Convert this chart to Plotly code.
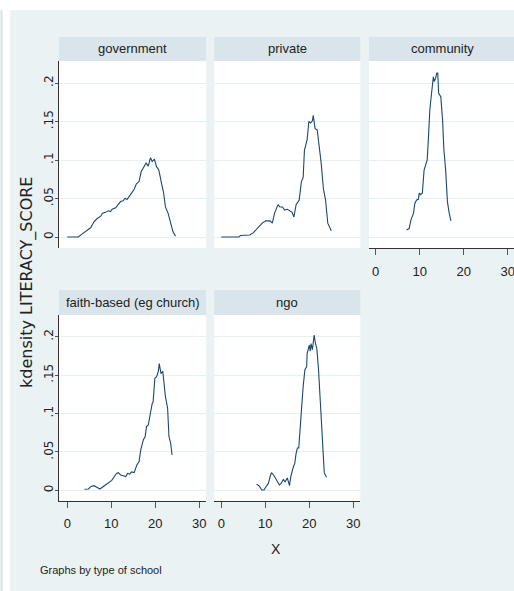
import plotly.graph_objects as go

W, H = 514, 591

# ---------------- data ----------------
panels = ["government", "private", "community", "faith-based (eg church)", "ngo"]

gov_x = [0, 2.5, 3.4, 4.5, 5.3, 6.1, 6.8, 7.6, 8.0, 8.7, 9.3, 9.8, 10.2, 11.0, 11.6, 12.1,
         12.7, 13.1, 13.6, 14.2, 14.6, 15.2, 15.7, 16.3, 16.8, 17.4, 17.9, 18.4, 18.9, 19.3,
         19.8, 20.3, 20.8, 21.4, 21.9, 22.3, 22.9, 23.5, 24.0, 24.6]
gov_y = [0, 0, 0.004, 0.008, 0.012, 0.020, 0.024, 0.027, 0.031, 0.032, 0.034, 0.033, 0.036,
         0.038, 0.043, 0.046, 0.047, 0.050, 0.049, 0.053, 0.057, 0.062, 0.069, 0.072, 0.085,
         0.091, 0.096, 0.092, 0.103, 0.098, 0.101, 0.091, 0.087, 0.070, 0.057, 0.039, 0.031,
         0.018, 0.007, 0.001]

priv_x = [0, 4.0, 4.4, 6.5, 7.3, 8.2, 9.3, 10.1, 11.1, 11.6, 12.1, 12.9, 13.3, 13.9, 14.4,
          15.0, 15.6, 16.1, 16.5, 17.0, 17.7, 18.2, 18.6, 18.9, 19.5, 19.9, 20.3, 20.7, 20.9,
          21.3, 21.8, 22.2, 22.7, 23.2, 23.7, 24.2, 25.0]
priv_y = [0, 0, 0.002, 0.0026, 0.0056, 0.011, 0.018, 0.021, 0.021, 0.018, 0.031, 0.042, 0.039,
          0.039, 0.035, 0.036, 0.034, 0.032, 0.026, 0.042, 0.048, 0.072, 0.077, 0.113, 0.126,
          0.150, 0.148, 0.151, 0.158, 0.141, 0.139, 0.122, 0.096, 0.063, 0.048, 0.018, 0.008]

comm_x = [7.0, 7.6, 8.0, 8.6, 8.9, 9.3, 9.7, 9.9, 10.2, 10.6, 11.0, 11.4, 11.7, 12.0, 12.3,
          12.7, 13.1, 13.3, 13.6, 13.9, 14.1, 14.3, 14.8, 15.2, 15.5, 15.9, 16.3, 16.7, 17.1]
comm_y = [0.009, 0.011, 0.022, 0.031, 0.044, 0.048, 0.049, 0.057, 0.055, 0.057, 0.087, 0.096,
          0.100, 0.130, 0.165, 0.187, 0.208, 0.202, 0.206, 0.213, 0.213, 0.187, 0.182, 0.152,
          0.113, 0.087, 0.046, 0.031, 0.021]

faith_x = [3.9, 4.8, 5.4, 6.1, 6.7, 7.4, 8.2, 8.9, 9.5, 10.1, 10.7, 11.2, 11.6, 12.1, 12.7,
           13.3, 13.7, 14.2, 14.6, 15.2, 15.8, 16.3, 16.7, 17.3, 17.7, 18.0, 18.4, 18.8, 19.3,
           19.5, 19.9, 20.3, 20.7, 20.9, 21.3, 21.7, 22.0, 22.3, 22.8, 23.1, 23.5, 23.8]
faith_y = [0.0013, 0.0017, 0.005, 0.006, 0.004, 0.0017, 0.005, 0.008, 0.010, 0.013, 0.018,
           0.022, 0.023, 0.020, 0.019, 0.018, 0.022, 0.021, 0.024, 0.023, 0.033, 0.037, 0.053,
           0.066, 0.070, 0.083, 0.085, 0.098, 0.113, 0.115, 0.146, 0.148, 0.155, 0.165, 0.152,
           0.155, 0.139, 0.122, 0.107, 0.070, 0.061, 0.046]

ngo_x = [8.0, 8.6, 9.2, 9.7, 10.2, 10.7, 11.1, 11.4, 12.0, 12.6, 13.2, 13.6, 14.1, 14.5, 15.0,
         15.5, 15.8, 16.4, 16.7, 17.0, 17.3, 17.6, 17.9, 18.3, 18.6, 19.0, 19.4, 19.5, 19.8,
         20.0, 20.2, 20.4, 20.7, 20.9, 21.1, 21.4, 21.7, 22.1, 22.4, 22.8, 23.2, 23.4, 23.9]
ngo_y = [0.008, 0.0056, 0.0004, 0.0004, 0.005, 0.009, 0.018, 0.023, 0.019, 0.013, 0.007,
         0.009, 0.014, 0.011, 0.016, 0.006, 0.018, 0.031, 0.035, 0.048, 0.055, 0.055, 0.083,
         0.105, 0.135, 0.157, 0.161, 0.178, 0.185, 0.189, 0.181, 0.191, 0.183, 0.196, 0.202,
         0.191, 0.185, 0.157, 0.122, 0.092, 0.048, 0.023, 0.017]

y_tickvals = [0, 0.05, 0.1, 0.15, 0.2]
y_ticktext = ["0", ".05", ".1", ".15", ".2"]
x_tickvals = [0, 10, 20, 30]
x_ticktext = ["0", "10", "20", "30"]

y_title = "kdensity LITERACY_SCORE"
x_title = "X"
note = "Graphs by type of school"

# ---------------- styling ----------------
NARROW = "Liberation Sans, Arial, sans-serif"
WIDE = "DejaVu Sans, Verdana, sans-serif"
OUTER = "#EAF2F3"
STRIP = "#D9E5EA"
GRID = "#E6EFF1"
LINE = "#1A476F"
TXT = "#222222"
AXIS = "#333333"

def fx(p):
    return p / W

def fy(p):
    return 1 - p / H

cols = [(59, 206, 67.3), (214.3, 360.3, 221.3), (369, 514, 375.7)]
rows = [(61, 248, 237), (315, 500.7, 490.3)]
PXU_X = 4.4
PXU_Y = [770, 768]

# (col, row, show_y_labels, show_x_axis)
layout_spec = [
    (0, 0, True, False),
    (1, 0, False, False),
    (2, 0, False, True),
    (0, 1, True, True),
    (1, 1, False, True),
]
series = [(gov_x, gov_y), (priv_x, priv_y), (comm_x, comm_y), (faith_x, faith_y), (ngo_x, ngo_y)]

fig = go.Figure()
layout = dict(
    width=W, height=H,
    margin=dict(l=0, r=0, t=0, b=0),
    paper_bgcolor=OUTER,
    plot_bgcolor="white",
    showlegend=False,
    shapes=[],
    annotations=[],
)

for i, ((c, r, showy, showx), (sx, sy)) in enumerate(zip(layout_spec, series)):
    n = i + 1
    xl, xr, x0 = cols[c]
    yt, yb, y0 = rows[r]
    pu = PXU_Y[r]
    xrange = [-(x0 - xl) / PXU_X, (xr - x0) / PXU_X]
    yrange = [-(yb - y0) / pu, (y0 - yt) / pu]
    xname = "xaxis" if n == 1 else f"xaxis{n}"
    yname = "yaxis" if n == 1 else f"yaxis{n}"
    xref = "x" if n == 1 else f"x{n}"
    yref = "y" if n == 1 else f"y{n}"

    fig.add_trace(go.Scatter(x=sx, y=sy, mode="lines", xaxis=xref, yaxis=yref,
                             line=dict(color=LINE, width=1.1), hoverinfo="skip"))

    layout[xname] = dict(
        domain=[fx(xl), fx(xr)], range=xrange, anchor=yref,
        showgrid=False, zeroline=False,
        showline=showx, linecolor=AXIS, linewidth=1,
        ticks="outside" if showx else "", ticklen=6, tickwidth=1, tickcolor="#555555",
        showticklabels=showx, tickvals=x_tickvals, ticktext=x_ticktext,
        ticklabelstandoff=5, ticklabeloverflow="allow",
        tickfont=dict(family=NARROW, size=13, color=TXT),
        fixedrange=True,
    )
    layout[yname] = dict(
        domain=[fy(yb), fy(yt)], range=yrange, anchor=xref,
        showgrid=True, gridcolor=GRID, gridwidth=1.3, zeroline=False,
        showline=showy, linecolor=AXIS, linewidth=1,
        ticks="outside" if showy else "", ticklen=3, tickwidth=1, tickcolor="#555555",
        showticklabels=showy, tickvals=y_tickvals, ticktext=y_ticktext, tickangle=-90,
        ticklabelstandoff=-3,
        tickfont=dict(family=WIDE, size=12, color=TXT),
        fixedrange=True,
    )

    # strip header
    hy0, hy1 = (37, 61) if r == 0 else (290, 315)
    hx1 = xr if c < 2 else 516
    layout["shapes"].append(dict(type="rect", xref="paper", yref="paper",
                                 x0=fx(xl), x1=fx(min(hx1, W)), y0=fy(hy1), y1=fy(hy0),
                                 fillcolor=STRIP, line=dict(width=0), layer="below"))
    layout["annotations"].append(dict(text=panels[i], xref="paper", yref="paper",
                                      x=fx((xl + hx1) / 2), y=fy((hy0 + hy1) / 2),
                                      xanchor="center", yanchor="middle", showarrow=False,
                                      font=dict(family=NARROW, size=13, color=TXT)))

# white margins at left and top
layout["shapes"].append(dict(type="rect", xref="paper", yref="paper", x0=0, x1=fx(10), y0=0, y1=1,
                             fillcolor="white", line=dict(width=0), layer="below"))
layout["shapes"].append(dict(type="rect", xref="paper", yref="paper", x0=0, x1=1, y0=fy(10), y1=1,
                             fillcolor="white", line=dict(width=0), layer="below"))
layout["shapes"].append(dict(type="line", xref="paper", yref="paper", x0=fx(1.5), x1=fx(1.5),
                             y0=0, y1=fy(10), line=dict(color="#DADFE2", width=2), layer="below"))

# titles and note
layout["annotations"].append(dict(text=y_title, xref="paper", yref="paper",
                                  x=fx(27), y=fy(283), textangle=-90, showarrow=False,
                                  xanchor="center", yanchor="middle",
                                  font=dict(family=WIDE, size=16, color=TXT)))
layout["annotations"].append(dict(text=x_title, xref="paper", yref="paper",
                                  x=fx(276), y=fy(549), showarrow=False,
                                  xanchor="center", yanchor="middle",
                                  font=dict(family=NARROW, size=14, color=TXT)))
layout["annotations"].append(dict(text=note, xref="paper", yref="paper",
                                  x=fx(38), y=fy(570), showarrow=False,
                                  xanchor="left", yanchor="middle",
                                  font=dict(family=NARROW, size=11, color=TXT)))

fig.update_layout(**layout)
fig.write_html("out.html", config={"displayModeBar": False},
               post_script="document.body.style.margin='0px';document.body.style.overflow='hidden';")
